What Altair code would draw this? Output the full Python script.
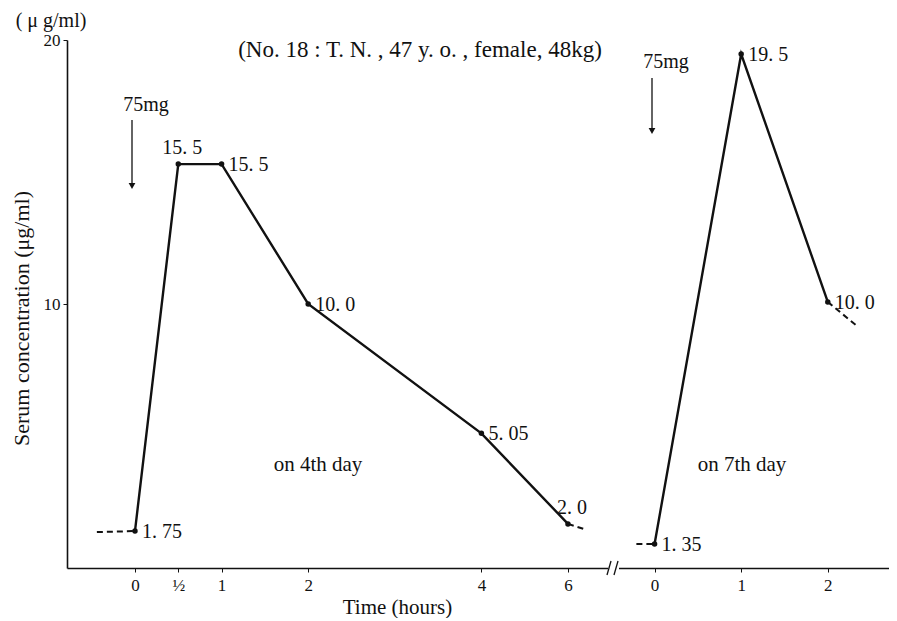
import altair as alt
import pandas as pd

# ---- data ----
# positions along the broken time axis (day 4: 0, 1/2, 1, 2, 4, 6 h ; day 7: 0, 1, 2 h)
d4_pos = [0, 0.5, 1, 2, 4, 5]
d4_conc = [1.4, 15.3, 15.3, 10.0, 5.1, 1.67]
d4_text = ["1. 75", "15. 5", "15. 5", "10. 0", "5. 05", "2. 0"]
d4_place = ["right", "above", "right", "right", "right", "above"]

d7_pos = [6, 7, 8]
d7_conc = [0.91, 19.47, 10.08]
d7_text = ["1. 35", "19. 5", "10. 0"]
d7_place = ["right", "right", "right"]

tick_pos = [0, 0.5, 1, 2, 4, 5, 6, 7, 8]
tick_text = ["0", "½", "1", "2", "4", "6", "0", "1", "2"]

dash_seg = [1, 1, 2, 2, 3, 3, 4, 4]
dash_pos = [-0.44, 0, 5, 5.22, 5.79, 6, 8, 8.35]
dash_conc = [1.36, 1.4, 1.67, 1.44, 0.91, 0.91, 10.08, 9.13]

FONT = "Liberation Serif"
INK = "#111111"

pts = pd.DataFrame({
    "pos": d4_pos + d7_pos,
    "conc": d4_conc + d7_conc,
    "label": d4_text + d7_text,
    "place": d4_place + d7_place,
    "day": ["4th"] * len(d4_pos) + ["7th"] * len(d7_pos),
})
dash = pd.DataFrame({"seg": dash_seg, "pos": dash_pos, "conc": dash_conc})

label_expr = "''"
for p, t in reversed(list(zip(tick_pos, tick_text))):
    label_expr = f"datum.value == {p} ? '{t}' : ({label_expr})"

X = alt.X("pos:Q",
          scale=alt.Scale(domain=[-0.785, 8.707], nice=False, zero=False),
          axis=alt.Axis(values=tick_pos, labelExpr=label_expr, grid=False,
                        title="Time (hours)", titleX=330, titleY=39,
                        titleAlign="center", titleBaseline="middle",
                        titleFontSize=21, titleFontWeight="normal", titleFont=FONT,
                        labelFont=FONT, labelFontSize=17, labelColor=INK,
                        tickSize=4, tickColor=INK, domainColor=INK, domainWidth=1.6,
                        labelPadding=5, titleColor=INK))
Y = alt.Y("conc:Q",
          scale=alt.Scale(domain=[0, 20], nice=False),
          axis=alt.Axis(values=[10, 20], grid=False,
                        title="Serum concentration (μg/ml)", titleX=-46, titleY=278,
                        titleAlign="center", titleBaseline="middle", titleAngle=-90,
                        titleFontSize=22, titleFontWeight="normal", titleFont=FONT,
                        labelFont=FONT, labelFontSize=17, labelColor=INK,
                        tickSize=4, tickColor=INK, domainColor=INK, domainWidth=1.6,
                        labelPadding=3, titleColor=INK))

base = alt.Chart(pts)

lines = base.mark_line(color=INK, strokeWidth=2.4).encode(x=X, y=Y, detail="day:N")
dots = base.mark_circle(color=INK, size=30, opacity=1).encode(x=X, y=Y)
dashed = alt.Chart(dash).mark_line(color=INK, strokeWidth=2, strokeDash=[6, 4]).encode(
    x=X, y=Y, detail="seg:N")

lab_right = base.transform_filter("datum.place == 'right'").mark_text(
    align="left", baseline="middle", dx=7, dy=1, font=FONT, fontSize=20, color=INK
).encode(x=X, y=Y, text="label:N")
lab_above = base.transform_filter("datum.place == 'above'").mark_text(
    align="center", baseline="middle", dx=4, dy=-16, font=FONT, fontSize=20, color=INK
).encode(x=X, y=Y, text="label:N")

# annotations
def txt(s, x, y, size=18, align="center"):
    return alt.Chart(pd.DataFrame({"t": [s]})).mark_text(
        font=FONT, fontSize=size, color=INK, align=align, baseline="middle"
    ).encode(text="t:N", x=alt.value(x), y=alt.value(y))

unit = txt("( μ g/ml)", -16, -19, 20)
title = txt("(No. 18 : T. N. , 47 y. o. , female, 48kg)", 353, 10, 23)
dose4 = txt("75mg", 79, 65, 20)
dose7 = txt("75mg", 599, 22, 20)
day4 = txt("on 4th day", 251, 425, 21)
day7 = txt("on 7th day", 675, 425, 21)

def arrow(x, y1, y2):
    shaft = alt.Chart(pd.DataFrame({"a": [0]})).mark_rule(color=INK, strokeWidth=1.3).encode(
        x=alt.value(x), y=alt.value(y1), y2=alt.value(y2 - 3))
    head = alt.Chart(pd.DataFrame({"a": [0]})).mark_point(
        shape="triangle-down", filled=True, color=INK, size=45, opacity=1).encode(
        x=alt.value(x), y=alt.value(y2 - 4))
    return shaft + head

arr4 = arrow(65, 80, 150)
arr7 = arrow(585, 38, 95)

# axis break
gap = alt.Chart(pd.DataFrame({"a": [0]})).mark_rule(color="white", strokeWidth=5).encode(
    x=alt.value(541), x2=alt.value(552), y=alt.value(528))
brk1 = alt.Chart(pd.DataFrame({"a": [0]})).mark_rule(color=INK, strokeWidth=1.3).encode(
    x=alt.value(540), x2=alt.value(544), y=alt.value(535), y2=alt.value(521))
brk2 = alt.Chart(pd.DataFrame({"a": [0]})).mark_rule(color=INK, strokeWidth=1.3).encode(
    x=alt.value(547), x2=alt.value(551), y=alt.value(535), y2=alt.value(521))

chart = alt.layer(
    lines, dashed, dots, lab_right, lab_above,
    unit, title, dose4, dose7, day4, day7, arr4, arr7, gap, brk1, brk2
).properties(
    width=822, height=528,
    autosize=alt.AutoSizeParams(type="none"),
    padding={"left": 59, "top": 32, "right": 0, "bottom": 50},
    background="white",
).configure_view(stroke=None)

chart.save("out.html", embed_options={"renderer": "svg", "actions": False})
